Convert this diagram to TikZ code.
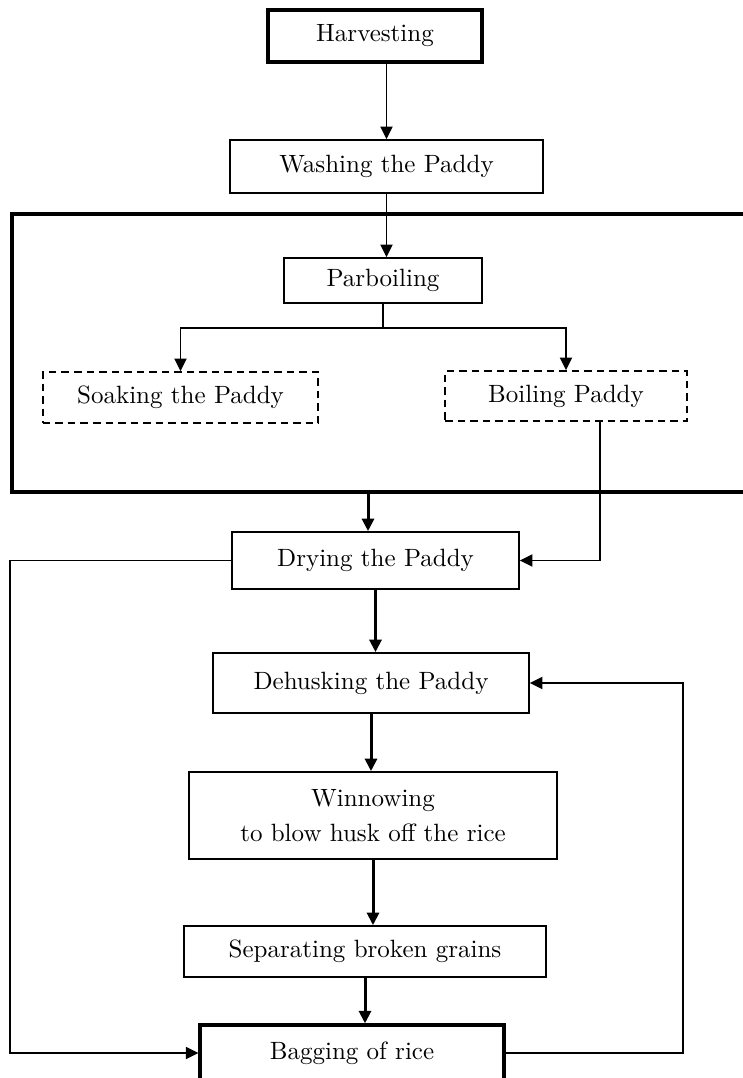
\documentclass[tikz,border=0pt]{standalone}
\usepackage{tikz}
\usetikzlibrary{positioning,arrows.meta,calc}

\begin{document}
\begin{tikzpicture}[
  x=0.4pt, y=-0.4pt,
  font=\normalsize,
  box/.style={draw, line width=0.7pt, align=center, inner sep=2pt},
  boldbox/.style={box, line width=1.3pt},
  optbox/.style={box, dashed, dash pattern=on 3pt off 2pt},
  frame/.style={draw, line width=1.3pt, minimum width=295.2pt, minimum height=111.2pt, inner sep=0pt},
  flow/.style={-{Triangle[length=5pt,width=4.8pt]}, line width=1.2pt},
  thinflow/.style={-{Triangle[length=5pt,width=4.8pt]}, line width=0.75pt},
  link/.style={line width=0.75pt},
]
\useasboundingbox (0,0) rectangle (742,1078);

% ---- Bloque de sancochado ----
\node[frame] (frame) at (381,353) {};

% ---- Etapas ----
\node[boldbox, minimum width=85.6pt,  minimum height=20.8pt] (harv)   at (375,36)      {Harvesting};
\node[box,     minimum width=125.2pt, minimum height=21.2pt] (wash)   at (386.5,166.5) {Washing the Paddy};
\node[box,     minimum width=79.2pt,  minimum height=18pt]   (parb)   at (383,280.5)   {Parboiling};
\node[optbox,  minimum width=110pt,   minimum height=20.4pt] (soak)   at (180.5,397.5) {Soaking the Paddy};
\node[optbox,  minimum width=96.8pt,  minimum height=20pt]   (boil)   at (566,396)     {Boiling Paddy};
\node[box,     minimum width=114.8pt, minimum height=22.8pt] (dry)    at (375.5,560.5) {Drying the Paddy};
\node[box,     minimum width=126.4pt, minimum height=24pt]   (dehusk) at (371,683)     {Dehusking the Paddy};
\node[box,     minimum width=147.2pt, minimum height=34.8pt] (winn)   at (373,815.5)   {Winnowing\\[2pt]to blow husk off the rice};
\node[box,     minimum width=144.8pt, minimum height=20.4pt] (sep)    at (365,951.5)   {Separating broken grains};
\node[boldbox, minimum width=121.6pt, minimum height=22.4pt] (bag)    at (352,1053)    {Bagging of rice};

% ---- Flujo principal ----
\draw[thinflow] (wash.north |- harv.south) -- (wash.north);
\draw[thinflow] (wash.south) -- (wash.south |- parb.north);
\draw[link] (parb.south) -- ++(0,24) coordinate (split);
\draw[thinflow] (split) -| (soak.north);
\draw[thinflow] (split) -| (boil.north);
\draw[flow] ([xshift=-3pt]frame.south -| dry.north) -- ([xshift=-3pt]dry.north);
\draw[flow] (dry.south) -- (dry.south |- dehusk.north);
\draw[flow] (dehusk.south) -- (dehusk.south |- winn.north);
\draw[flow] (winn.south) -- (winn.south |- sep.north);
\draw[flow] (sep.south) -- (sep.south |- bag.north);

% ---- Retornos ----
\draw[thinflow] ([xshift=13.6pt]boil.south) |- (dry.east);
\draw[thinflow] (dry.west) -- (dry.west -| frame.west) |- (bag.west);
\draw[thinflow] (bag.east) -- ++(177,0) |- (dehusk.east);

\end{tikzpicture}
\end{document}
